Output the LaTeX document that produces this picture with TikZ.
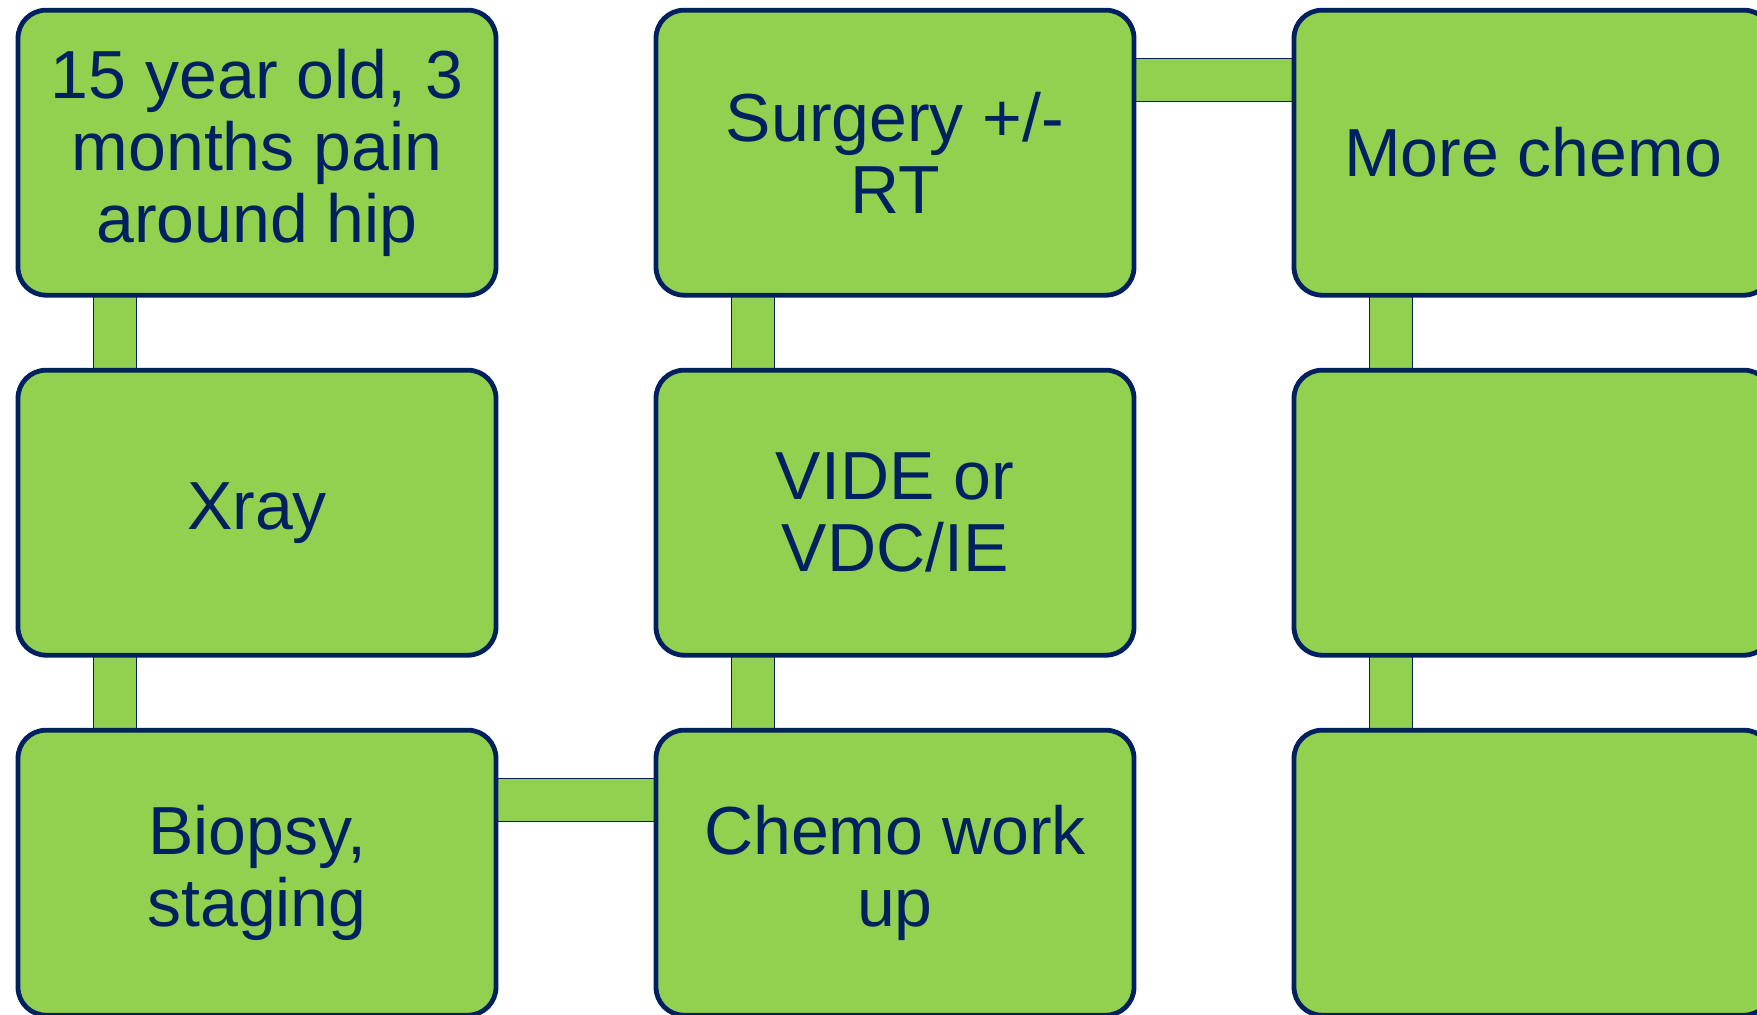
\documentclass[tikz,border=0pt]{standalone}
\usepackage{fontspec}
\setmainfont{Liberation Sans}
\usetikzlibrary{positioning}
\definecolor{navy}{HTML}{002060}
\definecolor{leaf}{HTML}{92D050}

\begin{document}
\begin{tikzpicture}[
    stage/.style={rectangle, rounded corners=14pt, draw=navy, line width=2.4pt, fill=leaf,
                  text=navy, minimum width=239pt, minimum height=142.5pt, outer sep=0pt,
                  align=center, font=\fontsize{34pt}{36pt}\selectfont},
    link/.style={draw=navy, line width=0.5pt, double=leaf, double distance=21pt},
    node distance=37.5pt and 80pt
]

\pgfdeclarelayer{links}
\pgfsetlayers{links, main}

\useasboundingbox (0,0) rectangle (878.5pt, -507.5pt);
\clip (0,0) rectangle (878.5pt, -507.5pt);

\node[stage] (patient) at (128.5pt, -76.35pt) {15 year old, 3\\months pain\\around hip};
\node[stage, below=of patient] (xray) {Xray};
\node[stage, below=of xray] (biopsy) {Biopsy,\\staging};
\node[stage, right=of biopsy] (workup) {Chemo work\\up};
\node[stage, above=of workup] (vide) {VIDE or\\VDC/IE};
\node[stage, above=of vide] (surgery) {Surgery +/-\\RT};
\node[stage, right=of surgery] (more_chemo) {More chemo};
\node[stage, below=of more_chemo] (blank_mid) {};
\node[stage, below=of blank_mid] (blank_low) {};

\begin{pgfonlayer}{links}
    \draw[link] ([xshift=-71.25pt]patient.center) -- ([xshift=-71.25pt]xray.center);
    \draw[link] ([xshift=-71.25pt]xray.center) -- ([xshift=-71.25pt]biopsy.center);
    \draw[link] ([yshift=36.5pt]biopsy.center) -- ([yshift=36.5pt]workup.center);
    \draw[link] ([xshift=-71.25pt]workup.center) -- ([xshift=-71.25pt]vide.center);
    \draw[link] ([xshift=-71.25pt]vide.center) -- ([xshift=-71.25pt]surgery.center);
    \draw[link] ([yshift=36.5pt]surgery.center) -- ([yshift=36.5pt]more_chemo.center);
    \draw[link] ([xshift=-71.25pt]more_chemo.center) -- ([xshift=-71.25pt]blank_mid.center);
    \draw[link] ([xshift=-71.25pt]blank_mid.center) -- ([xshift=-71.25pt]blank_low.center);
\end{pgfonlayer}

\end{tikzpicture}
\end{document}
